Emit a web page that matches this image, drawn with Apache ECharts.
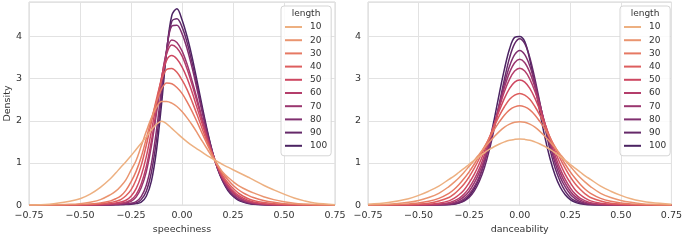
<!DOCTYPE html>
<html>
<head>
<meta charset="utf-8">
<script src="https://cdn.jsdelivr.net/npm/echarts@6/dist/echarts.min.js"></script>
<style>
  html, body { margin: 0; padding: 0; background: #fff; }
  #chart { width: 685px; height: 240px; }
</style>
</head>
<body>
<div id="chart"></div>
<script>
// shared x grid for both panels
var xs = [-0.75, -0.65, -0.55, -0.5, -0.45, -0.4, -0.35, -0.325, -0.3, -0.275, -0.25, -0.225, -0.2, -0.175, -0.15, -0.125, -0.1, -0.075, -0.05, -0.025,
  0, 0.025, 0.05, 0.075, 0.1, 0.125, 0.15, 0.175, 0.2, 0.225, 0.25, 0.275, 0.3, 0.325, 0.35, 0.4, 0.45, 0.5, 0.55, 0.6, 0.65, 0.75];

var lengths = ['10', '20', '30', '40', '50', '60', '70', '80', '90', '100'];
var colors = ['#EDB081', '#EA9570', '#E67963', '#DD5E5E', '#CE4862', '#B43E6B', '#9A366F', '#802F6F', '#652969', '#4B2362'];

// speechiness density, one array per length
var sp10 = [0, 0.02, 0.09, 0.15, 0.26, 0.42, 0.63, 0.76, 0.9, 1.03, 1.17, 1.32, 1.47, 1.62, 1.78, 1.92, 1.99, 1.93, 1.82, 1.71, 1.6, 1.5, 1.41, 1.33, 1.25, 1.17, 1.1, 1.03, 0.96, 0.9, 0.84, 0.78, 0.72, 0.66, 0.6, 0.47, 0.36, 0.26, 0.17, 0.1, 0.05, 0.01];
var sp20 = [0, 0.005, 0.018, 0.035, 0.07, 0.13, 0.25, 0.33, 0.45, 0.6, 0.83, 1.06, 1.4, 1.75, 2.07, 2.32, 2.46, 2.46, 2.42, 2.34, 2.22, 2.07, 1.9, 1.71, 1.51, 1.32, 1.13, 0.95, 0.78, 0.66, 0.56, 0.47, 0.4, 0.34, 0.29, 0.2, 0.13, 0.08, 0.045, 0.025, 0.012, 0.002];
var sp30 = [0, 0.001, 0.006, 0.012, 0.025, 0.05, 0.1, 0.15, 0.22, 0.35, 0.55, 0.8, 1.14, 1.58, 2.04, 2.45, 2.76, 2.9, 2.88, 2.79, 2.65, 2.45, 2.22, 1.96, 1.69, 1.43, 1.18, 0.95, 0.75, 0.6, 0.47, 0.37, 0.29, 0.23, 0.18, 0.11, 0.065, 0.035, 0.018, 0.009, 0.004, 0];
var sp40 = [0, 0, 0.003, 0.006, 0.014, 0.03, 0.06, 0.09, 0.13, 0.22, 0.36, 0.6, 0.94, 1.42, 1.97, 2.52, 2.97, 3.22, 3.24, 3.15, 2.97, 2.74, 2.45, 2.13, 1.8, 1.48, 1.19, 0.92, 0.7, 0.53, 0.4, 0.29, 0.21, 0.15, 0.11, 0.06, 0.032, 0.016, 0.008, 0.004, 0.002, 0];
var sp50 = [0, 0, 0, 0.003, 0.007, 0.016, 0.035, 0.05, 0.075, 0.115, 0.21, 0.39, 0.7, 1.15, 1.75, 2.42, 3.03, 3.44, 3.55, 3.47, 3.28, 3.01, 2.67, 2.29, 1.91, 1.53, 1.2, 0.9, 0.66, 0.48, 0.34, 0.235, 0.165, 0.11, 0.075, 0.035, 0.016, 0.007, 0.003, 0, 0, 0];
var sp60 = [0, 0, 0, 0, 0.003, 0.008, 0.02, 0.03, 0.045, 0.07, 0.125, 0.25, 0.5, 0.91, 1.52, 2.27, 3.02, 3.59, 3.8, 3.73, 3.54, 3.23, 2.85, 2.43, 1.99, 1.58, 1.21, 0.89, 0.63, 0.44, 0.3, 0.2, 0.13, 0.085, 0.055, 0.022, 0.009, 0.004, 0, 0, 0, 0];
var sp70 = [0, 0, 0, 0, 0.002, 0.005, 0.013, 0.02, 0.032, 0.05, 0.09, 0.19, 0.41, 0.79, 1.4, 2.18, 3.0, 3.65, 3.92, 3.86, 3.66, 3.34, 2.94, 2.5, 2.04, 1.61, 1.22, 0.89, 0.63, 0.43, 0.29, 0.19, 0.12, 0.075, 0.048, 0.018, 0.007, 0.003, 0, 0, 0, 0];
var sp80 = [0, 0, 0, 0, 0, 0.003, 0.008, 0.012, 0.018, 0.03, 0.045, 0.08, 0.2, 0.47, 0.98, 1.78, 2.77, 3.7, 4.25, 4.27, 4.07, 3.71, 3.25, 2.72, 2.18, 1.67, 1.23, 0.86, 0.58, 0.38, 0.24, 0.15, 0.09, 0.055, 0.032, 0.011, 0.004, 0, 0, 0, 0, 0];
var sp90 = [0, 0, 0, 0, 0, 0.002, 0.005, 0.008, 0.013, 0.02, 0.03, 0.05, 0.13, 0.33, 0.78, 1.55, 2.61, 3.68, 4.36, 4.42, 4.23, 3.86, 3.37, 2.81, 2.25, 1.71, 1.25, 0.87, 0.58, 0.375, 0.24, 0.14, 0.085, 0.05, 0.028, 0.009, 0.003, 0, 0, 0, 0, 0];
var sp100 = [0, 0, 0, 0, 0, 0.001, 0.004, 0.006, 0.009, 0.014, 0.022, 0.035, 0.07, 0.21, 0.57, 1.3, 2.41, 3.66, 4.5, 4.66, 4.4, 4.0, 3.5, 2.92, 2.32, 1.75, 1.25, 0.85, 0.56, 0.345, 0.21, 0.12, 0.07, 0.04, 0.022, 0.007, 0.002, 0, 0, 0, 0, 0];

// danceability density, one array per length
var da10 = [0.02, 0.06, 0.15, 0.23, 0.33, 0.45, 0.61, 0.69, 0.78, 0.87, 0.97, 1.06, 1.15, 1.24, 1.32, 1.39, 1.45, 1.5, 1.54, 1.56, 1.57, 1.56, 1.54, 1.5, 1.45, 1.39, 1.32, 1.24, 1.15, 1.06, 0.97, 0.87, 0.78, 0.69, 0.61, 0.45, 0.33, 0.23, 0.15, 0.096, 0.06, 0.02];
var da20 = [0.004, 0.018, 0.065, 0.11, 0.18, 0.28, 0.44, 0.54, 0.65, 0.78, 0.92, 1.06, 1.21, 1.36, 1.5, 1.63, 1.75, 1.85, 1.92, 1.965, 1.98, 1.965, 1.92, 1.85, 1.75, 1.63, 1.5, 1.36, 1.21, 1.06, 0.92, 0.78, 0.65, 0.54, 0.44, 0.28, 0.18, 0.11, 0.065, 0.035, 0.018, 0.004];
var da30 = [0.001, 0.007, 0.027, 0.05, 0.09, 0.16, 0.28, 0.37, 0.49, 0.63, 0.79, 0.97, 1.17, 1.38, 1.59, 1.8, 1.98, 2.14, 2.26, 2.33, 2.36, 2.33, 2.26, 2.14, 1.98, 1.8, 1.59, 1.38, 1.17, 0.97, 0.79, 0.63, 0.49, 0.37, 0.28, 0.16, 0.09, 0.05, 0.027, 0.014, 0.007, 0.001];
var da40 = [0, 0.002, 0.011, 0.022, 0.045, 0.095, 0.18, 0.26, 0.37, 0.5, 0.67, 0.87, 1.1, 1.35, 1.61, 1.88, 2.13, 2.34, 2.51, 2.61, 2.65, 2.61, 2.51, 2.34, 2.13, 1.88, 1.61, 1.35, 1.1, 0.87, 0.67, 0.5, 0.37, 0.26, 0.18, 0.095, 0.045, 0.022, 0.011, 0.005, 0.002, 0];
var da50 = [0, 0, 0.005, 0.01, 0.02, 0.045, 0.1, 0.16, 0.245, 0.36, 0.53, 0.73, 0.98, 1.27, 1.59, 1.93, 2.25, 2.54, 2.77, 2.92, 2.97, 2.92, 2.77, 2.54, 2.25, 1.93, 1.59, 1.27, 0.98, 0.73, 0.53, 0.36, 0.245, 0.16, 0.1, 0.045, 0.02, 0.01, 0.005, 0.002, 0, 0];
var da60 = [0, 0, 0.002, 0.004, 0.009, 0.022, 0.055, 0.1, 0.16, 0.26, 0.41, 0.61, 0.86, 1.18, 1.54, 1.93, 2.33, 2.7, 2.99, 3.18, 3.25, 3.18, 2.99, 2.7, 2.33, 1.93, 1.54, 1.18, 0.86, 0.61, 0.41, 0.26, 0.16, 0.1, 0.055, 0.022, 0.009, 0.004, 0.002, 0, 0, 0];
var da70 = [0, 0, 0, 0.002, 0.005, 0.012, 0.035, 0.065, 0.12, 0.2, 0.33, 0.52, 0.77, 1.09, 1.48, 1.92, 2.38, 2.8, 3.15, 3.38, 3.46, 3.38, 3.15, 2.8, 2.38, 1.92, 1.48, 1.09, 0.77, 0.52, 0.33, 0.2, 0.12, 0.065, 0.035, 0.012, 0.005, 0.002, 0, 0, 0, 0];
var da80 = [0, 0, 0, 0, 0.002, 0.006, 0.02, 0.042, 0.08, 0.15, 0.26, 0.43, 0.67, 1.0, 1.42, 1.89, 2.4, 2.89, 3.3, 3.57, 3.67, 3.57, 3.3, 2.89, 2.4, 1.89, 1.42, 1.0, 0.67, 0.43, 0.26, 0.15, 0.08, 0.042, 0.02, 0.006, 0.002, 0, 0, 0, 0, 0];
var da90 = [0, 0, 0, 0, 0, 0.002, 0.01, 0.022, 0.048, 0.097, 0.18, 0.33, 0.56, 0.88, 1.31, 1.84, 2.42, 3.0, 3.5, 3.83, 3.95, 3.83, 3.5, 3.0, 2.42, 1.84, 1.31, 0.88, 0.56, 0.33, 0.18, 0.097, 0.048, 0.022, 0.01, 0.002, 0, 0, 0, 0, 0, 0];
var da100 = [0, 0, 0, 0, 0, 0.002, 0.012, 0.026, 0.056, 0.11, 0.215, 0.39, 0.645, 1.01, 1.49, 2.06, 2.67, 3.24, 3.71, 3.98, 4.0, 3.88, 3.45, 2.85, 2.2, 1.6, 1.1, 0.71, 0.43, 0.245, 0.13, 0.066, 0.031, 0.014, 0.006, 0, 0, 0, 0, 0, 0, 0];

var yTicks = [0, 1, 2, 3, 4];

var speech = [sp10, sp20, sp30, sp40, sp50, sp60, sp70, sp80, sp90, sp100];
var dance = [da10, da20, da30, da40, da50, da60, da70, da80, da90, da100];

var font = 'DejaVu Sans';
var textColor = '#333333';
var gridColor = '#e2e2e2';

function pairs(ys) {
  return xs.map(function (x, i) { return [x, ys[i]]; });
}

function fmtX(v) {
  var s = Math.abs(v).toFixed(2);
  return v < 0 ? '\u2212' + s : s;
}

function xAxisFor(gi, name) {
  return {
    type: 'value', gridIndex: gi, min: -0.75, max: 0.75, interval: 0.25,
    name: name, nameLocation: 'middle', nameGap: 17,
    nameTextStyle: { fontFamily: font, fontSize: 9.5, color: textColor },
    axisLine: { show: false }, axisTick: { show: false },
    axisLabel: { fontFamily: font, fontSize: 9.5, color: textColor, margin: 5, formatter: fmtX },
    splitLine: { show: true, lineStyle: { color: gridColor, width: 1 } }
  };
}

function yAxisFor(gi, name) {
  return {
    type: 'value', gridIndex: gi, min: 0, max: 4.82, interval: 1,
    name: name, nameLocation: 'middle', nameGap: 15, nameRotate: 90,
    nameTextStyle: { fontFamily: font, fontSize: 9.5, color: textColor },
    axisLine: { show: false }, axisTick: { show: false },
    axisLabel: {
      fontFamily: font, fontSize: 9.5, color: textColor, margin: 7, showMaxLabel: false,
      formatter: function (v) { return yTicks.indexOf(v) >= 0 ? String(v) : ''; }
    },
    splitLine: { show: true, lineStyle: { color: gridColor, width: 1 } }
  };
}

function legendAt(left) {
  return {
    orient: 'vertical', left: left, top: 6,
    padding: [15, 4, 4, 4],
    itemWidth: 17, itemHeight: 2, itemGap: 1.2, icon: 'rect',
    borderColor: '#d5d5d5', borderWidth: 1, borderRadius: 3,
    backgroundColor: 'rgba(255,255,255,0.85)',
    selectedMode: false,
    textStyle: { fontFamily: font, fontSize: 9, color: textColor, lineHeight: 12, width: 17, padding: [0, 0, 0, 3] },
    data: lengths
  };
}

var series = [];
for (var i = lengths.length - 1; i >= 0; i--) {
  series.push({
    name: lengths[i], type: 'line', xAxisIndex: 0, yAxisIndex: 0,
    data: pairs(speech[i]), smooth: 0.35, symbol: 'none',
    lineStyle: { width: 1.5, color: colors[i] }, itemStyle: { color: colors[i] }
  });
  series.push({
    name: lengths[i], type: 'line', xAxisIndex: 1, yAxisIndex: 1,
    data: pairs(dance[i]), smooth: 0.35, symbol: 'none',
    lineStyle: { width: 1.5, color: colors[i] }, itemStyle: { color: colors[i] }
  });
}

var chart = echarts.init(document.getElementById('chart'), null, { renderer: 'canvas' });
chart.setOption({
  animation: false,
  backgroundColor: '#ffffff',
  grid: [
    { left: 29, top: 2, width: 306, height: 206, show: true, borderColor: '#d5d5d5', borderWidth: 1 },
    { left: 368, top: 2, width: 305, height: 206, show: true, borderColor: '#d5d5d5', borderWidth: 1 }
  ],
  xAxis: [xAxisFor(0, 'speechiness'), xAxisFor(1, 'danceability')],
  yAxis: [yAxisFor(0, 'Density'), yAxisFor(1, '')],
  legend: [legendAt(281), legendAt(620)],
  graphic: [
    { type: 'text', z: 100, style: { text: 'length', x: 306, y: 14, textAlign: 'center', textVerticalAlign: 'middle', font: '9px "DejaVu Sans"', fill: textColor } },
    { type: 'text', z: 100, style: { text: 'length', x: 645, y: 14, textAlign: 'center', textVerticalAlign: 'middle', font: '9px "DejaVu Sans"', fill: textColor } }
  ],
  series: series
});
</script>
</body>
</html>
